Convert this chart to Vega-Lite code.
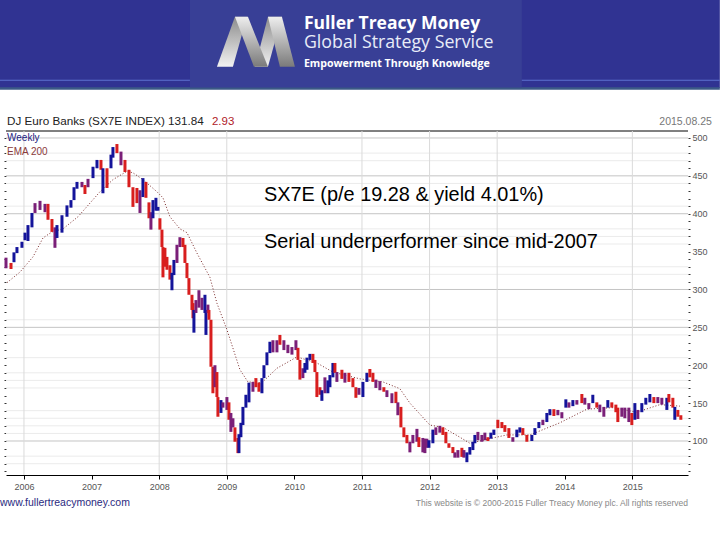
{
  "$schema": "https://vega.github.io/schema/vega-lite/v6.json",
  "description": "DJ Euro Banks SX7E weekly range with EMA 200, under a Fuller Treacy Money banner",
  "autosize": "none",
  "width": 682,
  "height": 344,
  "padding": {"left": 6, "top": 131, "right": 32, "bottom": 65},
  "background": "white",
  "view": {"stroke": null},
  "config": {"font": "Liberation Sans"},
  "datasets": {
    "banner": [
      {"part": "band", "x0": 2005.645, "x1": 2016.294, "y0": 566, "y1": 682.2},
      {"part": "edge", "x0": 2005.645, "x1": 2016.294, "y0": 563.6, "y1": 567},
      {"part": "line", "x0": 2005.645, "x1": 2016.294, "y0": 575.4, "y1": 576.7},
      {"part": "panel", "x0": 2008.455, "x1": 2013.365, "y0": 567, "y1": 682.2}
    ],
    "logo_up": [
      {"leg": "a", "y": 594, "x0": 2008.854, "x1": 2009.091},
      {"leg": "a", "y": 660, "x0": 2009.121, "x1": 2009.298},
      {"leg": "c", "y": 594, "x0": 2009.417, "x1": 2009.609},
      {"leg": "c", "y": 660, "x0": 2009.609, "x1": 2009.816}
    ],
    "logo_down": [
      {"leg": "b", "y": 660, "x0": 2009.121, "x1": 2009.313},
      {"leg": "b", "y": 594, "x0": 2009.402, "x1": 2009.609},
      {"leg": "d", "y": 660, "x0": 2009.609, "x1": 2009.816},
      {"leg": "d", "y": 594, "x0": 2009.786, "x1": 2010.008}
    ],
    "hgrid": [
      {"y": 509.2, "level": "top"},
      {"y": 500, "level": "major"}, {"y": 480, "level": "light"}, {"y": 470, "level": "light"},
      {"y": 450, "level": "major"}, {"y": 440, "level": "light"}, {"y": 410, "level": "light"},
      {"y": 400, "level": "major"}, {"y": 380, "level": "light"}, {"y": 370, "level": "light"},
      {"y": 360, "level": "light"}, {"y": 330, "level": "light"}, {"y": 320, "level": "light"},
      {"y": 300, "level": "major"}, {"y": 260, "level": "light"}, {"y": 250, "level": "major"},
      {"y": 240, "level": "light"}, {"y": 210, "level": "light"}, {"y": 190, "level": "light"},
      {"y": 180, "level": "light"}, {"y": 170, "level": "light"}, {"y": 140, "level": "light"},
      {"y": 130, "level": "light"}, {"y": 120, "level": "light"}, {"y": 110, "level": "light"},
      {"y": 100, "level": "major"}, {"y": 80, "level": "light"}, {"y": 70, "level": "light"}
    ],
    "vgrid": [
      {"t": 2006}, {"t": 2008}, {"t": 2009}, {"t": 2011}, {"t": 2012}, {"t": 2013}, {"t": 2015}
    ],
    "ema": [
      {"t": 2005.749, "v": 309}, {"t": 2005.941, "v": 323}, {"t": 2006.133, "v": 343}, {"t": 2006.281, "v": 368},
      {"t": 2006.414, "v": 376}, {"t": 2006.577, "v": 380}, {"t": 2006.799, "v": 396}, {"t": 2007.124, "v": 429},
      {"t": 2007.316, "v": 445}, {"t": 2007.523, "v": 456}, {"t": 2007.612, "v": 454}, {"t": 2007.76, "v": 445},
      {"t": 2007.967, "v": 429}, {"t": 2008.056, "v": 421}, {"t": 2008.159, "v": 396}, {"t": 2008.307, "v": 380},
      {"t": 2008.411, "v": 375}, {"t": 2008.559, "v": 348}, {"t": 2008.751, "v": 316}, {"t": 2008.854, "v": 282},
      {"t": 2009.002, "v": 247}, {"t": 2009.195, "v": 194}, {"t": 2009.313, "v": 178}, {"t": 2009.52, "v": 177},
      {"t": 2009.742, "v": 196}, {"t": 2010.038, "v": 211}, {"t": 2010.333, "v": 203}, {"t": 2010.57, "v": 191},
      {"t": 2010.969, "v": 182}, {"t": 2011.31, "v": 178}, {"t": 2011.561, "v": 169}, {"t": 2011.709, "v": 150},
      {"t": 2012.005, "v": 121}, {"t": 2012.197, "v": 118}, {"t": 2012.448, "v": 105}, {"t": 2012.596, "v": 97},
      {"t": 2012.936, "v": 104}, {"t": 2013.143, "v": 108}, {"t": 2013.484, "v": 108}, {"t": 2013.927, "v": 124},
      {"t": 2014.327, "v": 142}, {"t": 2014.712, "v": 144}, {"t": 2015.067, "v": 138}, {"t": 2015.407, "v": 148},
      {"t": 2015.703, "v": 146}
    ],
    "weekly": [
      {"t": 2005.734, "high": 342, "low": 328, "dir": "m"}, {"t": 2005.808, "high": 335, "low": 327, "dir": "d"},
      {"t": 2005.852, "high": 349, "low": 336, "dir": "u"}, {"t": 2005.896, "high": 356, "low": 348, "dir": "u"},
      {"t": 2005.97, "high": 363, "low": 355, "dir": "u"}, {"t": 2006.015, "high": 375, "low": 365, "dir": "u"},
      {"t": 2006.059, "high": 385, "low": 364, "dir": "u"}, {"t": 2006.118, "high": 401, "low": 382, "dir": "u"},
      {"t": 2006.163, "high": 414, "low": 401, "dir": "m"}, {"t": 2006.237, "high": 417, "low": 405, "dir": "m"},
      {"t": 2006.311, "high": 413, "low": 402, "dir": "m"}, {"t": 2006.355, "high": 413, "low": 392, "dir": "d"},
      {"t": 2006.414, "high": 393, "low": 376, "dir": "d"}, {"t": 2006.458, "high": 382, "low": 355, "dir": "m"},
      {"t": 2006.488, "high": 385, "low": 368, "dir": "u"}, {"t": 2006.562, "high": 398, "low": 375, "dir": "u"},
      {"t": 2006.636, "high": 411, "low": 396, "dir": "u"}, {"t": 2006.695, "high": 418, "low": 408, "dir": "u"},
      {"t": 2006.74, "high": 435, "low": 418, "dir": "u"}, {"t": 2006.784, "high": 442, "low": 433, "dir": "u"},
      {"t": 2006.858, "high": 442, "low": 435, "dir": "m"}, {"t": 2006.902, "high": 438, "low": 426, "dir": "d"},
      {"t": 2006.947, "high": 446, "low": 435, "dir": "m"}, {"t": 2007.021, "high": 462, "low": 447, "dir": "u"},
      {"t": 2007.08, "high": 471, "low": 460, "dir": "u"}, {"t": 2007.139, "high": 471, "low": 458, "dir": "d"},
      {"t": 2007.168, "high": 460, "low": 427, "dir": "u"}, {"t": 2007.228, "high": 460, "low": 434, "dir": "d"},
      {"t": 2007.287, "high": 478, "low": 460, "dir": "u"}, {"t": 2007.316, "high": 488, "low": 474, "dir": "u"},
      {"t": 2007.375, "high": 492, "low": 480, "dir": "d"}, {"t": 2007.435, "high": 482, "low": 464, "dir": "m"},
      {"t": 2007.494, "high": 471, "low": 455, "dir": "d"}, {"t": 2007.553, "high": 458, "low": 435, "dir": "d"},
      {"t": 2007.612, "high": 435, "low": 409, "dir": "d"}, {"t": 2007.671, "high": 434, "low": 414, "dir": "d"},
      {"t": 2007.716, "high": 431, "low": 401, "dir": "m"}, {"t": 2007.76, "high": 447, "low": 422, "dir": "u"},
      {"t": 2007.804, "high": 442, "low": 421, "dir": "d"}, {"t": 2007.849, "high": 415, "low": 394, "dir": "d"},
      {"t": 2007.878, "high": 402, "low": 379, "dir": "m"}, {"t": 2007.908, "high": 418, "low": 394, "dir": "u"},
      {"t": 2007.952, "high": 421, "low": 404, "dir": "u"}, {"t": 2007.982, "high": 409, "low": 404, "dir": "u"},
      {"t": 2008.011, "high": 394, "low": 379, "dir": "d"}, {"t": 2008.041, "high": 379, "low": 356, "dir": "d"},
      {"t": 2008.056, "high": 356, "low": 316, "dir": "d"}, {"t": 2008.085, "high": 355, "low": 330, "dir": "d"},
      {"t": 2008.115, "high": 343, "low": 326, "dir": "d"}, {"t": 2008.159, "high": 332, "low": 313, "dir": "d"},
      {"t": 2008.189, "high": 322, "low": 299, "dir": "u"}, {"t": 2008.218, "high": 339, "low": 319, "dir": "u"},
      {"t": 2008.263, "high": 359, "low": 335, "dir": "m"}, {"t": 2008.307, "high": 369, "low": 356, "dir": "m"},
      {"t": 2008.352, "high": 368, "low": 356, "dir": "d"}, {"t": 2008.381, "high": 359, "low": 335, "dir": "d"},
      {"t": 2008.411, "high": 335, "low": 315, "dir": "d"}, {"t": 2008.44, "high": 315, "low": 293, "dir": "d"},
      {"t": 2008.485, "high": 293, "low": 273, "dir": "d"}, {"t": 2008.5, "high": 282, "low": 262, "dir": "d"},
      {"t": 2008.514, "high": 273, "low": 243, "dir": "u"}, {"t": 2008.544, "high": 286, "low": 269, "dir": "m"},
      {"t": 2008.588, "high": 299, "low": 276, "dir": "m"}, {"t": 2008.633, "high": 289, "low": 273, "dir": "m"},
      {"t": 2008.677, "high": 293, "low": 269, "dir": "u"}, {"t": 2008.692, "high": 273, "low": 240, "dir": "u"},
      {"t": 2008.721, "high": 280, "low": 269, "dir": "m"}, {"t": 2008.736, "high": 273, "low": 260, "dir": "d"},
      {"t": 2008.766, "high": 260, "low": 198, "dir": "d"}, {"t": 2008.795, "high": 198, "low": 163, "dir": "d"},
      {"t": 2008.825, "high": 200, "low": 171, "dir": "m"}, {"t": 2008.854, "high": 191, "low": 158, "dir": "d"},
      {"t": 2008.869, "high": 158, "low": 132, "dir": "d"}, {"t": 2008.914, "high": 154, "low": 137, "dir": "u"},
      {"t": 2008.943, "high": 151, "low": 144, "dir": "m"}, {"t": 2009.002, "high": 158, "low": 141, "dir": "m"},
      {"t": 2009.032, "high": 151, "low": 128, "dir": "d"}, {"t": 2009.061, "high": 137, "low": 112, "dir": "m"},
      {"t": 2009.091, "high": 130, "low": 118, "dir": "m"}, {"t": 2009.121, "high": 118, "low": 99, "dir": "d"},
      {"t": 2009.165, "high": 104, "low": 84, "dir": "d"}, {"t": 2009.18, "high": 109, "low": 84, "dir": "u"},
      {"t": 2009.209, "high": 124, "low": 105, "dir": "u"}, {"t": 2009.239, "high": 145, "low": 121, "dir": "u"},
      {"t": 2009.283, "high": 161, "low": 144, "dir": "u"}, {"t": 2009.328, "high": 177, "low": 151, "dir": "u"},
      {"t": 2009.387, "high": 178, "low": 165, "dir": "m"}, {"t": 2009.431, "high": 183, "low": 171, "dir": "d"},
      {"t": 2009.476, "high": 177, "low": 165, "dir": "d"}, {"t": 2009.52, "high": 183, "low": 163, "dir": "u"},
      {"t": 2009.55, "high": 200, "low": 183, "dir": "u"}, {"t": 2009.594, "high": 217, "low": 200, "dir": "u"},
      {"t": 2009.638, "high": 231, "low": 216, "dir": "u"}, {"t": 2009.683, "high": 233, "low": 217, "dir": "m"},
      {"t": 2009.742, "high": 233, "low": 217, "dir": "m"}, {"t": 2009.786, "high": 240, "low": 227, "dir": "d"},
      {"t": 2009.845, "high": 233, "low": 220, "dir": "m"}, {"t": 2009.904, "high": 227, "low": 216, "dir": "m"},
      {"t": 2009.964, "high": 224, "low": 214, "dir": "m"}, {"t": 2010.023, "high": 233, "low": 220, "dir": "m"},
      {"t": 2010.053, "high": 223, "low": 207, "dir": "d"}, {"t": 2010.082, "high": 207, "low": 181, "dir": "d"},
      {"t": 2010.126, "high": 196, "low": 183, "dir": "m"}, {"t": 2010.156, "high": 203, "low": 190, "dir": "u"},
      {"t": 2010.186, "high": 210, "low": 194, "dir": "u"}, {"t": 2010.23, "high": 215, "low": 207, "dir": "u"},
      {"t": 2010.274, "high": 215, "low": 203, "dir": "d"}, {"t": 2010.304, "high": 207, "low": 191, "dir": "d"},
      {"t": 2010.333, "high": 191, "low": 158, "dir": "d"}, {"t": 2010.378, "high": 171, "low": 161, "dir": "d"},
      {"t": 2010.407, "high": 167, "low": 153, "dir": "u"}, {"t": 2010.452, "high": 184, "low": 163, "dir": "m"},
      {"t": 2010.496, "high": 180, "low": 163, "dir": "u"}, {"t": 2010.526, "high": 187, "low": 171, "dir": "u"},
      {"t": 2010.57, "high": 203, "low": 184, "dir": "u"}, {"t": 2010.6, "high": 203, "low": 190, "dir": "d"},
      {"t": 2010.629, "high": 191, "low": 178, "dir": "m"}, {"t": 2010.703, "high": 194, "low": 182, "dir": "d"},
      {"t": 2010.748, "high": 190, "low": 177, "dir": "m"}, {"t": 2010.807, "high": 190, "low": 178, "dir": "d"},
      {"t": 2010.866, "high": 183, "low": 171, "dir": "d"}, {"t": 2010.91, "high": 171, "low": 157, "dir": "d"},
      {"t": 2010.955, "high": 170, "low": 161, "dir": "m"}, {"t": 2011.014, "high": 178, "low": 158, "dir": "u"},
      {"t": 2011.073, "high": 190, "low": 178, "dir": "u"}, {"t": 2011.117, "high": 195, "low": 184, "dir": "d"},
      {"t": 2011.162, "high": 190, "low": 178, "dir": "d"}, {"t": 2011.206, "high": 181, "low": 170, "dir": "m"},
      {"t": 2011.265, "high": 179, "low": 167, "dir": "m"}, {"t": 2011.324, "high": 171, "low": 165, "dir": "d"},
      {"t": 2011.369, "high": 167, "low": 158, "dir": "m"}, {"t": 2011.443, "high": 163, "low": 150, "dir": "m"},
      {"t": 2011.502, "high": 165, "low": 150, "dir": "d"}, {"t": 2011.531, "high": 151, "low": 134, "dir": "m"},
      {"t": 2011.576, "high": 145, "low": 118, "dir": "d"}, {"t": 2011.62, "high": 118, "low": 105, "dir": "d"},
      {"t": 2011.665, "high": 108, "low": 97, "dir": "d"}, {"t": 2011.709, "high": 99, "low": 85, "dir": "m"},
      {"t": 2011.753, "high": 108, "low": 97, "dir": "m"}, {"t": 2011.813, "high": 116, "low": 99, "dir": "m"},
      {"t": 2011.842, "high": 105, "low": 92, "dir": "d"}, {"t": 2011.901, "high": 104, "low": 85, "dir": "m"},
      {"t": 2011.931, "high": 103, "low": 84, "dir": "m"}, {"t": 2011.96, "high": 103, "low": 91, "dir": "m"},
      {"t": 2011.99, "high": 101, "low": 91, "dir": "u"}, {"t": 2012.049, "high": 115, "low": 97, "dir": "u"},
      {"t": 2012.093, "high": 118, "low": 108, "dir": "m"}, {"t": 2012.152, "high": 120, "low": 111, "dir": "m"},
      {"t": 2012.197, "high": 118, "low": 108, "dir": "d"}, {"t": 2012.241, "high": 112, "low": 97, "dir": "d"},
      {"t": 2012.286, "high": 97, "low": 91, "dir": "d"}, {"t": 2012.345, "high": 92, "low": 84, "dir": "d"},
      {"t": 2012.374, "high": 85, "low": 78, "dir": "m"}, {"t": 2012.419, "high": 88, "low": 78, "dir": "m"},
      {"t": 2012.478, "high": 91, "low": 79, "dir": "d"}, {"t": 2012.508, "high": 88, "low": 78, "dir": "m"},
      {"t": 2012.552, "high": 85, "low": 72, "dir": "u"}, {"t": 2012.596, "high": 92, "low": 82, "dir": "u"},
      {"t": 2012.641, "high": 99, "low": 88, "dir": "u"}, {"t": 2012.67, "high": 108, "low": 97, "dir": "u"},
      {"t": 2012.715, "high": 112, "low": 101, "dir": "m"}, {"t": 2012.774, "high": 108, "low": 99, "dir": "m"},
      {"t": 2012.818, "high": 111, "low": 101, "dir": "m"}, {"t": 2012.863, "high": 105, "low": 100, "dir": "d"},
      {"t": 2012.907, "high": 111, "low": 103, "dir": "u"}, {"t": 2012.951, "high": 115, "low": 108, "dir": "u"},
      {"t": 2013.01, "high": 128, "low": 117, "dir": "d"}, {"t": 2013.07, "high": 125, "low": 117, "dir": "d"},
      {"t": 2013.114, "high": 121, "low": 112, "dir": "d"}, {"t": 2013.173, "high": 117, "low": 104, "dir": "d"},
      {"t": 2013.232, "high": 105, "low": 99, "dir": "m"}, {"t": 2013.291, "high": 115, "low": 105, "dir": "u"},
      {"t": 2013.336, "high": 118, "low": 111, "dir": "u"}, {"t": 2013.38, "high": 117, "low": 108, "dir": "d"},
      {"t": 2013.439, "high": 108, "low": 99, "dir": "d"}, {"t": 2013.513, "high": 108, "low": 100, "dir": "u"},
      {"t": 2013.558, "high": 117, "low": 108, "dir": "u"}, {"t": 2013.617, "high": 125, "low": 117, "dir": "u"},
      {"t": 2013.676, "high": 128, "low": 121, "dir": "m"}, {"t": 2013.735, "high": 137, "low": 125, "dir": "u"},
      {"t": 2013.78, "high": 142, "low": 134, "dir": "u"}, {"t": 2013.839, "high": 142, "low": 133, "dir": "d"},
      {"t": 2013.898, "high": 141, "low": 134, "dir": "m"}, {"t": 2013.957, "high": 138, "low": 130, "dir": "m"},
      {"t": 2014.016, "high": 155, "low": 144, "dir": "u"}, {"t": 2014.061, "high": 151, "low": 144, "dir": "m"},
      {"t": 2014.12, "high": 154, "low": 146, "dir": "u"}, {"t": 2014.179, "high": 154, "low": 148, "dir": "m"},
      {"t": 2014.253, "high": 162, "low": 150, "dir": "d"}, {"t": 2014.297, "high": 157, "low": 148, "dir": "m"},
      {"t": 2014.356, "high": 150, "low": 142, "dir": "m"}, {"t": 2014.415, "high": 161, "low": 150, "dir": "u"},
      {"t": 2014.474, "high": 151, "low": 144, "dir": "d"}, {"t": 2014.519, "high": 148, "low": 138, "dir": "m"},
      {"t": 2014.578, "high": 145, "low": 132, "dir": "m"}, {"t": 2014.637, "high": 154, "low": 144, "dir": "u"},
      {"t": 2014.696, "high": 151, "low": 144, "dir": "d"}, {"t": 2014.756, "high": 148, "low": 138, "dir": "d"},
      {"t": 2014.785, "high": 144, "low": 125, "dir": "d"}, {"t": 2014.844, "high": 144, "low": 132, "dir": "m"},
      {"t": 2014.889, "high": 144, "low": 130, "dir": "m"}, {"t": 2014.948, "high": 144, "low": 125, "dir": "m"},
      {"t": 2014.992, "high": 137, "low": 121, "dir": "d"}, {"t": 2015.037, "high": 150, "low": 128, "dir": "u"},
      {"t": 2015.081, "high": 141, "low": 129, "dir": "m"}, {"t": 2015.14, "high": 150, "low": 138, "dir": "u"},
      {"t": 2015.199, "high": 157, "low": 148, "dir": "u"}, {"t": 2015.259, "high": 162, "low": 151, "dir": "u"},
      {"t": 2015.318, "high": 158, "low": 150, "dir": "d"}, {"t": 2015.377, "high": 158, "low": 150, "dir": "m"},
      {"t": 2015.436, "high": 157, "low": 148, "dir": "m"}, {"t": 2015.51, "high": 157, "low": 141, "dir": "u"},
      {"t": 2015.54, "high": 162, "low": 151, "dir": "d"}, {"t": 2015.599, "high": 157, "low": 144, "dir": "d"},
      {"t": 2015.628, "high": 145, "low": 128, "dir": "u"}, {"t": 2015.673, "high": 141, "low": 132, "dir": "d"},
      {"t": 2015.717, "high": 134, "low": 128, "dir": "d"}
    ]
  },
  "resolve": {"scale": {"color": "independent"}, "axis": {"x": "independent", "y": "independent"}},
  "layer": [
    {
      "data": {"name": "hgrid"},
      "mark": {"type": "rule", "strokeWidth": 1},
      "encoding": {
        "y": {
          "field": "y", "type": "quantitative",
          "scale": {"domain": [55.1, 509.2], "nice": false, "zero": false},
          "axis": {
            "orient": "left", "title": null, "grid": false, "domain": false, "labels": false,
            "values": [60, 70, 80, 90, 100, 110, 120, 130, 140, 150, 160, 170, 180, 190, 200, 210, 220, 230, 240, 250, 260, 270, 280, 290, 300, 310, 320, 330, 340, 350, 360, 370, 380, 390, 400, 410, 420, 430, 440, 450, 460, 470, 480, 490, 500],
            "tickSize": 2, "tickColor": "#333333"
          }
        },
        "color": {
          "field": "level", "type": "nominal", "legend": null,
          "scale": {"domain": ["top", "major", "light"], "range": ["#000000", "#c4c4c4", "#ebebeb"]}
        }
      }
    },
    {
      "data": {"name": "vgrid"},
      "mark": {"type": "rule", "color": "#dadada", "strokeWidth": 1},
      "encoding": {
        "x": {
          "field": "t", "type": "quantitative",
          "scale": {"domain": [2005.734, 2015.823], "nice": false, "zero": false},
          "axis": {
            "orient": "bottom", "title": null, "grid": false, "format": "d", "domain": true, "ticks": true,
            "domainColor": "#000000", "tickColor": "#000000",
            "values": [2006, 2007, 2008, 2009, 2010, 2011, 2012, 2013, 2014, 2015],
            "tickSize": 4, "labelFontSize": 9, "labelColor": "#555555", "labelPadding": 3
          }
        }
      }
    },
    {
      "data": {"name": "banner"},
      "mark": {"type": "rect"},
      "encoding": {
        "x": {"field": "x0", "type": "quantitative", "axis": null},
        "x2": {"field": "x1"},
        "y": {"field": "y0", "type": "quantitative", "axis": null},
        "y2": {"field": "y1"},
        "color": {
          "field": "part", "type": "nominal", "legend": null,
          "scale": {"domain": ["band", "edge", "line", "panel"], "range": ["#303392", "#3b5a86", "#5c72cf", "#383f96"]}
        }
      }
    },
    {
      "data": {"name": "logo_up"},
      "mark": {
        "type": "area", "orient": "horizontal",
        "color": {"gradient": "linear", "x1": 0, "y1": 1, "x2": 0, "y2": 0, "stops": [{"offset": 0, "color": "#f2f2f2"}, {"offset": 1, "color": "#8c8c8c"}]}
      },
      "encoding": {
        "y": {"field": "y", "type": "quantitative", "axis": null},
        "x": {"field": "x0", "type": "quantitative", "axis": null},
        "x2": {"field": "x1"},
        "detail": {"field": "leg"}
      }
    },
    {
      "data": {"name": "logo_down"},
      "mark": {
        "type": "area", "orient": "horizontal",
        "color": {"gradient": "linear", "x1": 0, "y1": 0, "x2": 0, "y2": 1, "stops": [{"offset": 0, "color": "#eeeeee"}, {"offset": 1, "color": "#7a7a7a"}]}
      },
      "encoding": {
        "y": {"field": "y", "type": "quantitative", "axis": null},
        "x": {"field": "x0", "type": "quantitative", "axis": null},
        "x2": {"field": "x1"},
        "detail": {"field": "leg"}
      }
    },
    {
      "data": {"values": [{"t": 2010.141, "v": 643.8, "label": "Fuller Treacy Money"}]},
      "mark": {"type": "text", "align": "left", "baseline": "alphabetic", "font": "Open Sans", "fontWeight": "bold", "fontSize": 17.5, "color": "white"},
      "encoding": {"x": {"field": "t", "type": "quantitative", "axis": null}, "y": {"field": "v", "type": "quantitative", "axis": null}, "text": {"field": "label"}}
    },
    {
      "data": {"values": [{"t": 2010.141, "v": 618.8, "label": "Global Strategy Service"}]},
      "mark": {"type": "text", "align": "left", "baseline": "alphabetic", "font": "Open Sans", "fontSize": 17.8, "color": "#e8ecf8"},
      "encoding": {"x": {"field": "t", "type": "quantitative", "axis": null}, "y": {"field": "v", "type": "quantitative", "axis": null}, "text": {"field": "label"}}
    },
    {
      "data": {"values": [{"t": 2010.141, "v": 594.3, "label": "Empowerment Through Knowledge"}]},
      "mark": {"type": "text", "align": "left", "baseline": "alphabetic", "font": "Open Sans", "fontWeight": "bold", "fontSize": 10.6, "color": "white"},
      "encoding": {"x": {"field": "t", "type": "quantitative", "axis": null}, "y": {"field": "v", "type": "quantitative", "axis": null}, "text": {"field": "label"}}
    },
    {
      "data": {"values": [{"t": 2005.749, "v": 517, "label": "DJ Euro Banks (SX7E INDEX) 131.84"}]},
      "mark": {"type": "text", "align": "left", "baseline": "alphabetic", "fontSize": 11.7, "color": "#222222"},
      "encoding": {"x": {"field": "t", "type": "quantitative", "axis": null}, "y": {"field": "v", "type": "quantitative", "axis": null}, "text": {"field": "label"}}
    },
    {
      "data": {"values": [{"t": 2008.78, "v": 517, "label": "2.93"}]},
      "mark": {"type": "text", "align": "left", "baseline": "alphabetic", "fontSize": 11.5, "color": "#b02028"},
      "encoding": {"x": {"field": "t", "type": "quantitative", "axis": null}, "y": {"field": "v", "type": "quantitative", "axis": null}, "text": {"field": "label"}}
    },
    {
      "data": {"values": [{"t": 2016.176, "v": 517, "label": "2015.08.25"}]},
      "mark": {"type": "text", "align": "right", "baseline": "alphabetic", "fontSize": 10.5, "color": "#777777"},
      "encoding": {"x": {"field": "t", "type": "quantitative", "axis": null}, "y": {"field": "v", "type": "quantitative", "axis": null}, "text": {"field": "label"}}
    },
    {
      "data": {"values": [{"t": 2005.749, "v": 496, "label": "Weekly"}]},
      "mark": {"type": "text", "align": "left", "baseline": "alphabetic", "fontSize": 10, "color": "#1a1a80"},
      "encoding": {"x": {"field": "t", "type": "quantitative", "axis": null}, "y": {"field": "v", "type": "quantitative", "axis": null}, "text": {"field": "label"}}
    },
    {
      "data": {"values": [{"t": 2005.749, "v": 477.5, "label": "EMA 200"}]},
      "mark": {"type": "text", "align": "left", "baseline": "alphabetic", "fontSize": 10, "color": "#8a3a3a"},
      "encoding": {"x": {"field": "t", "type": "quantitative", "axis": null}, "y": {"field": "v", "type": "quantitative", "axis": null}, "text": {"field": "label"}}
    },
    {
      "data": {"name": "ema"},
      "mark": {"type": "line", "color": "#7a2a2a", "strokeWidth": 1, "strokeDash": [1, 2]},
      "encoding": {
        "x": {"field": "t", "type": "quantitative", "axis": null},
        "y": {"field": "v", "type": "quantitative", "axis": null}
      }
    },
    {
      "data": {"name": "weekly"},
      "mark": {"type": "rule", "strokeWidth": 3},
      "encoding": {
        "x": {"field": "t", "type": "quantitative", "axis": null},
        "y": {
          "field": "high", "type": "quantitative",
          "axis": {
            "orient": "right", "title": null, "grid": false, "domain": false, "ticks": true,
            "values": [60, 70, 80, 90, 100, 110, 120, 130, 140, 150, 160, 170, 180, 190, 200, 210, 220, 230, 240, 250, 260, 270, 280, 290, 300, 310, 320, 330, 340, 350, 360, 370, 380, 390, 400, 410, 420, 430, 440, 450, 460, 470, 480, 490, 500],
            "labelExpr": "datum.value % 50 === 0 ? datum.value : ''",
            "tickSize": 2, "tickColor": "#333333", "labelFontSize": 9, "labelColor": "#555555", "labelPadding": 2
          }
        },
        "y2": {"field": "low"},
        "color": {
          "field": "dir", "type": "nominal", "legend": null,
          "scale": {"domain": ["u", "d", "m"], "range": ["#14149a", "#d81e1e", "#7a1f78"]}
        }
      }
    },
    {
      "data": {"values": [{"t": 2009.55, "v": 416.8, "label": "SX7E (p/e 19.28 & yield 4.01%)"}, {"t": 2009.55, "v": 354.8, "label": "Serial underperformer since mid-2007"}]},
      "mark": {"type": "text", "align": "left", "baseline": "alphabetic", "font": "Liberation Sans", "fontSize": 19.9, "color": "#000000"},
      "encoding": {"x": {"field": "t", "type": "quantitative", "axis": null}, "y": {"field": "v", "type": "quantitative", "axis": null}, "text": {"field": "label"}}
    },
    {
      "data": {"values": [{"t": 2005.645, "v": 14.2, "label": "www.fullertreacymoney.com"}]},
      "mark": {"type": "text", "align": "left", "baseline": "alphabetic", "fontSize": 10.5, "color": "#2a2a80"},
      "encoding": {"x": {"field": "t", "type": "quantitative", "axis": null}, "y": {"field": "v", "type": "quantitative", "axis": null}, "text": {"field": "label"}}
    },
    {
      "data": {"values": [{"t": 2015.823, "v": 14.2, "label": "This website is © 2000-2015 Fuller Treacy Money plc. All rights reserved"}]},
      "mark": {"type": "text", "align": "right", "baseline": "alphabetic", "fontSize": 8.5, "color": "#888888"},
      "encoding": {"x": {"field": "t", "type": "quantitative", "axis": null}, "y": {"field": "v", "type": "quantitative", "axis": null}, "text": {"field": "label"}}
    }
  ]
}
